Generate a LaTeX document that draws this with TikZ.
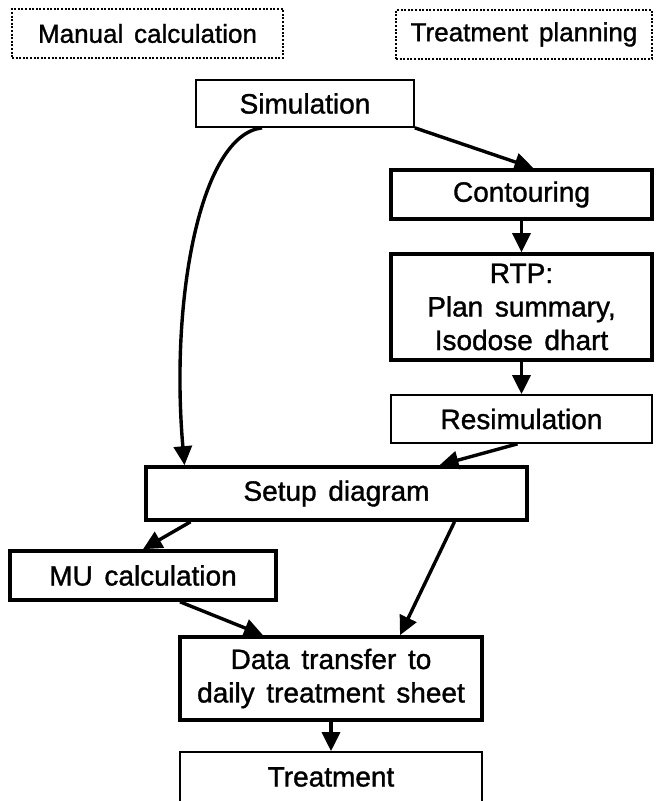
\documentclass[tikz,border=0pt]{standalone}
\usepackage{fontspec}
\setmainfont{Liberation Sans}[FakeBold=1.2, WordSpace=1.5]
\usepackage{tikz}
\usetikzlibrary{arrows.meta}
\usetikzlibrary{positioning}
\tikzset{box/.style = {draw, line width=3.6pt, inner sep=0pt, align=center,
                       font=\fontsize{28}{33.5}\selectfont},
         thinbox/.style = {box, line width=1.7pt},
         group/.style = {box, line width=1.1pt, dash pattern=on 2pt off 1.6pt,
                         font=\fontsize{26}{32}\selectfont},
         flow/.style = {line width=3.4pt,
                        -{Triangle[length=19pt,width=18pt]}}}

\begin{document}
\begin{tikzpicture}[x=1pt, y=-1pt]
      \clip (0, 0) rectangle (664, 801);

      \node [group, minimum width=271pt, minimum height=49pt] (manual)   at (147.5, 33.5) {Manual calculation};
      \node [group, minimum width=256pt, minimum height=49pt] (planning) at (524, 34.5) {Treatment planning};

      \node [thinbox, minimum width=218pt, minimum height=47pt] (sim)      at (305, 103.5) {Simulation};
      \node [box, minimum width=261pt, minimum height=49pt]     (contour)  at (521.5, 194.5) {Contouring};
      \node [box, minimum width=261pt, minimum height=106pt]    (rtp)      at (521.5, 307) {RTP:\\Plan summary,\\Isodose dhart};
      \node [thinbox, minimum width=261pt, minimum height=48pt] (resim)    at (521.5, 419) {Resimulation};
      \node [box, minimum width=381pt, minimum height=53pt]     (setup)    at (336.5, 493.5) {Setup diagram};
      \node [box, minimum width=266pt, minimum height=49pt]     (mu)       at (143, 575.5) {MU calculation};
      \node [box, minimum width=302pt, minimum height=83pt]     (transfer) at (331, 678.5) {Data transfer to\\daily treatment sheet};
      \node [thinbox, minimum width=302pt, minimum height=70pt] (treat)    at (331, 787) {};
      \node [font=\fontsize{28}{33.5}\selectfont] (treatlbl) at (331, 777) {Treatment};

      \draw [flow] ([xshift=-43pt]sim.south) .. controls (200, 135) and (170, 300) .. ([xshift=-152pt]setup.north);
      \draw [flow] (sim.south east) -- ([xshift=12pt]contour.north);
      \draw [flow] (contour) -- (rtp);
      \draw [flow] (rtp) -- (resim);
      \draw [flow] ([xshift=-4pt]resim.south) -- ([xshift=103pt]setup.north);
      \draw [flow] ([xshift=-146pt]setup.south) -- (mu.north);
      \draw [flow] ([xshift=118pt]setup.south) -- ([xshift=69pt]transfer.north);
      \draw [flow] ([xshift=37pt]mu.south) -- ([xshift=-68pt]transfer.north);
      \draw [flow] (transfer) -- (treat);
    \end{tikzpicture}
\end{document}
